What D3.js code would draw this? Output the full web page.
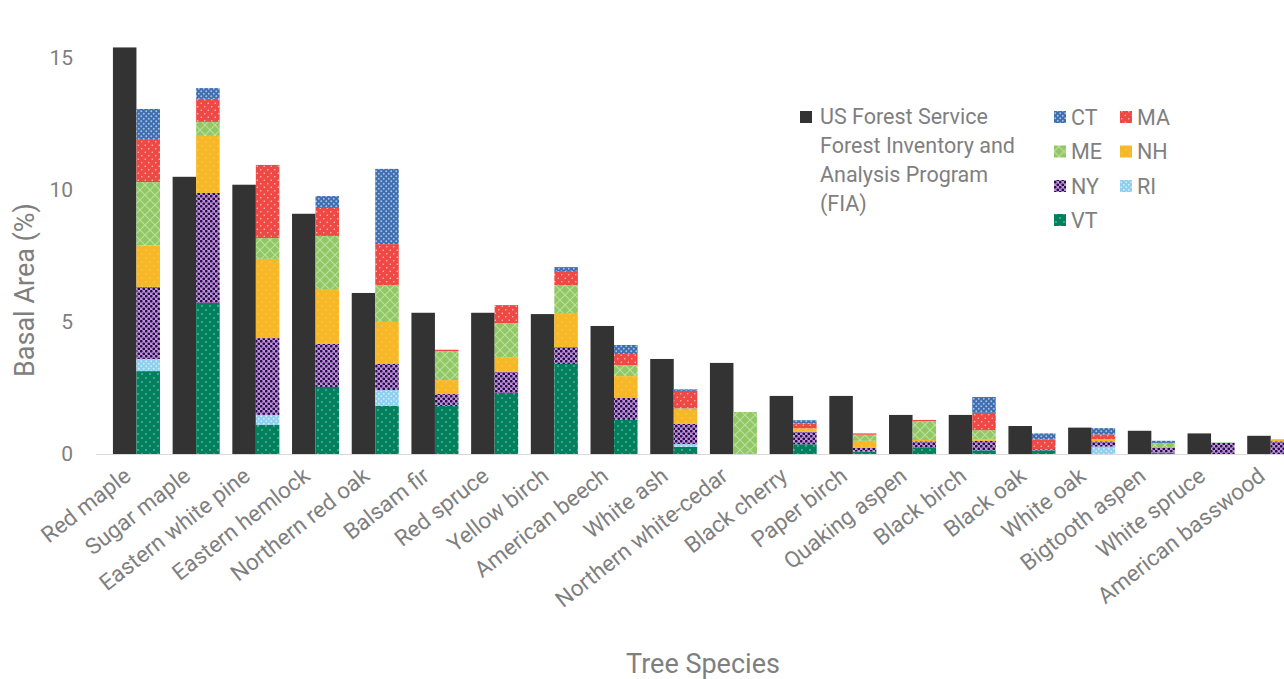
<!DOCTYPE html>
<html>
<head>
<meta charset="utf-8">
<script src="https://cdn.jsdelivr.net/npm/d3@7"></script>
<style>
  body { margin: 0; background: #fff; overflow: hidden; }
  text { font-family: Roboto, "Liberation Sans", sans-serif; }
</style>
</head>
<body>
<svg id="chart" width="1284" height="679"></svg>
<script>
// Basal area (%) by tree species: FIA reference vs. state contributions
const species = ["Red maple", "Sugar maple", "Eastern white pine", "Eastern hemlock", "Northern red oak",
  "Balsam fir", "Red spruce", "Yellow birch", "American beech", "White ash", "Northern white-cedar",
  "Black cherry", "Paper birch", "Quaking aspen", "Black birch", "Black oak", "White oak",
  "Bigtooth aspen", "White spruce", "American basswood"];

const fia = [15.4, 10.5, 10.2, 9.1, 6.1, 5.35, 5.35, 5.3, 4.85, 3.6, 3.45, 2.2, 2.2, 1.48, 1.48, 1.06, 1.0, 0.88, 0.78, 0.69];

const VT = [3.14, 5.72, 1.1, 2.54, 1.82, 1.82, 2.31, 3.41, 1.29, 0.27, 0, 0.37, 0.09, 0.23, 0.14, 0.14, 0, 0.05, 0, 0];
const RI = [0.46, 0, 0.38, 0, 0.6, 0, 0, 0, 0, 0.11, 0, 0, 0, 0, 0, 0, 0.28, 0, 0, 0];
const NY = [2.73, 4.17, 2.91, 1.63, 0.99, 0.45, 0.8, 0.64, 0.83, 0.76, 0, 0.47, 0.14, 0.25, 0.36, 0.04, 0.2, 0.2, 0.42, 0.48];
const NH = [1.57, 2.16, 3.0, 2.08, 1.59, 0.53, 0.56, 1.29, 0.83, 0.53, 0, 0.13, 0.27, 0.05, 0.06, 0, 0.08, 0, 0, 0.08];
const ME = [2.4, 0.53, 0.79, 2.01, 1.4, 1.1, 1.29, 1.06, 0.42, 0.06, 1.59, 0, 0.23, 0.71, 0.34, 0, 0, 0.17, 0.02, 0];
const MA = [1.6, 0.87, 2.77, 1.06, 1.55, 0.05, 0.68, 0.53, 0.42, 0.66, 0, 0.18, 0.05, 0.05, 0.66, 0.38, 0.18, 0, 0, 0];
const CT = [1.17, 0.41, 0, 0.45, 2.85, 0, 0, 0.15, 0.34, 0.06, 0, 0.13, 0, 0, 0.6, 0.22, 0.24, 0.08, 0, 0];

const stateKeys = ["VT", "RI", "NY", "NH", "ME", "MA", "CT"];
const stateValues = { VT, RI, NY, NH, ME, MA, CT };
const legendOrder = ["CT", "MA", "ME", "NH", "NY", "RI", "VT"];
const yTicks = [0, 5, 10, 15];
const fiaLabel = ["US Forest Service", "Forest Inventory and", "Analysis Program", "(FIA)"];

const svg = d3.select("#chart");
const W = 1284, H = 679;
const textGray = "#7f7f7f";

// ---- fill patterns for each state ----
const defs = svg.append("defs");
function pat(id, size, base) {
  const p = defs.append("pattern").attr("id", id).attr("patternUnits", "userSpaceOnUse")
    .attr("width", size).attr("height", size);
  p.append("rect").attr("width", size).attr("height", size).attr("fill", base);
  return p;
}
function dots(p, pts, r, color, op) {
  pts.forEach(([cx, cy]) => p.append("circle").attr("cx", cx).attr("cy", cy).attr("r", r)
    .attr("fill", color).attr("opacity", op));
}
dots(pat("p-VT", 8, "#00805d"), [[2, 2], [6, 6]], 0.7, "#ffffff", 0.75);
dots(pat("p-RI", 5, "#8dcfee"), [[1.25, 1.25], [3.75, 3.75]], 0.9, "#d8f0fb", 0.9);
dots(pat("p-NY", 5, "#c58be6"), [[1.25, 1.25], [3.75, 3.75]], 1.35, "#1d1638", 1);
dots(pat("p-NH", 8, "#f6b826"), [[2, 2], [6, 6]], 0.7, "#fbd877", 0.8);
{
  const p = pat("p-ME", 10, "#90c866");
  p.append("path").attr("d", "M0,0L10,10M10,0L0,10").attr("stroke", "#bde09d").attr("stroke-width", 1.1);
}
dots(pat("p-MA", 7, "#ee4944"), [[1.75, 1.75], [5.25, 5.25]], 0.75, "#ffffff", 0.7);
dots(pat("p-CT", 5, "#3e6eb0"), [[1.25, 1.25], [3.75, 3.75]], 0.95, "#b3cbea", 0.9);

// ---- scales ----
const step = 59.7;
const x0 = 106.6;
const x = d3.scaleBand().domain(species)
  .range([x0, x0 + step * species.length])
  .paddingInner(0.212).paddingOuter(0.106);
const half = x.bandwidth() / 2;
const y = d3.scaleLinear().domain([0, 15]).range([454, 58]);

// ---- axis baseline ----
svg.append("line").attr("x1", 96).attr("x2", W).attr("y1", y(0) + 0.5).attr("y2", y(0) + 0.5)
  .attr("stroke", "#d9d9d9").attr("stroke-width", 1.2);

// ---- y tick labels ----
const yAxis = svg.append("g").attr("transform", "translate(73,0)")
  .call(d3.axisLeft(y).tickValues(yTicks).tickSize(0).tickPadding(0));
yAxis.select(".domain").remove();
yAxis.selectAll("text").attr("fill", textGray).style("font-size", "21px")
  .style("font-family", "Roboto, 'Liberation Sans', sans-serif");

// ---- FIA bars ----
svg.append("g").selectAll("rect").data(species).join("rect")
  .attr("x", d => x(d)).attr("width", half)
  .attr("y", (d, i) => y(fia[i])).attr("height", (d, i) => y(0) - y(fia[i]))
  .attr("fill", "#333333");

// ---- stacked state bars ----
const rows = species.map((s, i) => {
  const o = { species: s };
  stateKeys.forEach(k => o[k] = stateValues[k][i]);
  return o;
});
const stacked = d3.stack().keys(stateKeys)(rows);
svg.append("g").selectAll("g").data(stacked).join("g")
  .attr("fill", d => `url(#p-${d.key})`)
  .selectAll("rect").data(d => d.filter(v => v[1] - v[0] > 0)).join("rect")
  .attr("x", d => x(d.data.species) + half).attr("width", half)
  .attr("y", d => y(d[1])).attr("height", d => y(d[0]) - y(d[1]));

// ---- category labels ----
svg.append("g").selectAll("text").data(species).join("text")
  .attr("transform", d => `translate(${x(d) + half - 14},${466}) rotate(-38)`)
  .attr("text-anchor", "end").attr("dy", "0.71em")
  .attr("fill", textGray).style("font-size", "22.5px")
  .text(d => d);

// ---- axis titles ----
svg.append("text").attr("x", 703).attr("y", 673).attr("text-anchor", "middle")
  .attr("fill", textGray).style("font-size", "27px").text("Tree Species");
svg.append("text").attr("transform", "translate(34,290) rotate(-90)").attr("text-anchor", "middle")
  .attr("fill", textGray).style("font-size", "27px").text("Basal Area (%)");

// ---- legend ----
const lg = svg.append("g");
lg.append("rect").attr("x", 800).attr("y", 111).attr("width", 12).attr("height", 12).attr("fill", "#333333");
lg.selectAll("text.fia").data(fiaLabel).join("text").attr("class", "fia")
  .attr("x", 820).attr("y", (d, i) => 116 + i * 29).attr("dy", "0.35em")
  .attr("fill", textGray).style("font-size", "21.5px").text(d => d);

const cols = [1054, 1120], rowsY = [117, 151.5, 186, 220];
const items = lg.selectAll("g.st").data(legendOrder).join("g").attr("class", "st")
  .attr("transform", (d, i) => `translate(${cols[i % 2]},${rowsY[Math.floor(i / 2)]})`);
items.append("rect").attr("x", 0).attr("y", -6).attr("width", 12).attr("height", 12)
  .attr("fill", d => `url(#p-${d})`);
items.append("text").attr("x", 17).attr("dy", "0.35em").attr("fill", textGray)
  .style("font-size", "21.5px").text(d => d);
</script>
</body>
</html>
